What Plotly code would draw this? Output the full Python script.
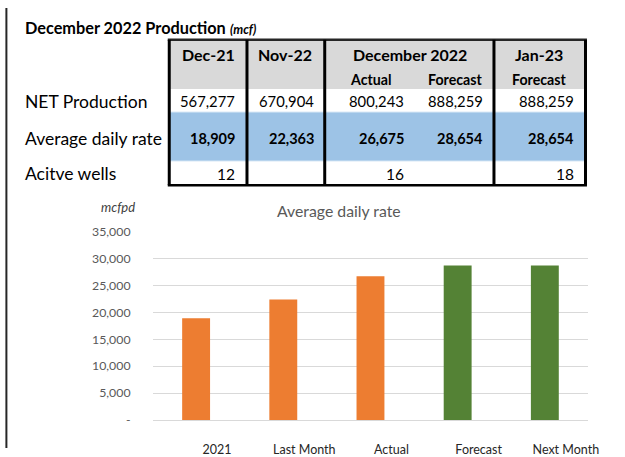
import plotly.graph_objects as go

W, H = 625, 457

# ---- data ----
title_main = "December 2022 Production"
title_unit = "(mcf)"
header_top = ["Dec-21", "Nov-22", "December 2022", "Jan-23"]
header_sub = ["", "", "Actual", "Forecast", "Forecast"]
row_labels = ["NET Production", "Average daily rate", "Acitve wells"]
net_production = [567277, 670904, 800243, 888259, 888259]
avg_daily_rate = [18909, 22363, 26675, 28654, 28654]
active_wells = [12, None, 16, None, 18]

chart_title = "Average daily rate"
y_unit = "mcfpd"
categories = ["2021", "Last Month", "Actual", "Forecast", "Next Month"]
bar_values = avg_daily_rate
bar_colors = ["#ED7D31", "#ED7D31", "#ED7D31", "#548235", "#548235"]
y_tickvals = [0, 5000, 10000, 15000, 20000, 25000, 30000, 35000]
y_ticktext = ["-", "5,000", "10,000", "15,000", "20,000", "25,000", "30,000", "35,000"]

FONT = "Lato"

def px(x):
    return x / W

def py(y):
    return 1 - y / H

fig = go.Figure()
fig.add_trace(go.Bar(
    x=categories, y=bar_values, marker=dict(color=bar_colors, line=dict(width=0)),
    width=0.32, hoverinfo="x+y", showlegend=False))

shapes = []
annotations = []

# page left border
shapes.append(dict(type="line", xref="paper", yref="paper", x0=px(6.5), x1=px(6.5),
                   y0=0, y1=1, line=dict(color="#262626", width=2)))

# table geometry
col_edges = [172, 251, 330, 502, 595]
top, hdr_bot, r1_bot, r2_bot, bot = 33, 84, 108, 159, 184
sub_right = [241, 321, 413, 493, 585]
sub_center = [None, None, 377, 462, 548]
top_center = [212, 290, 417, 548]

def rect(x0, y0, x1, y1, color):
    shapes.append(dict(type="rect", xref="paper", yref="paper", x0=px(x0), x1=px(x1),
                       y0=py(y1), y1=py(y0), fillcolor=color, line=dict(width=0), layer="below"))

rect(col_edges[0], top, col_edges[-1], hdr_bot, "#D9D9D9")
rect(col_edges[0], r1_bot, col_edges[-1], r2_bot, "#9DC3E6")
for yy in [r1_bot, r2_bot]:
    shapes.append(dict(type="line", xref="paper", yref="paper", x0=px(col_edges[0]), x1=px(col_edges[-1]),
                       y0=py(yy), y1=py(yy), line=dict(color="#DDEBF7", width=1)))

# borders
shapes.append(dict(type="line", xref="paper", yref="paper", x0=px(col_edges[0] - 1.5), x1=px(col_edges[-1] + 1.5),
                   y0=py(top), y1=py(top), line=dict(color="#262626", width=2.5)))
shapes.append(dict(type="line", xref="paper", yref="paper", x0=px(col_edges[0] - 1.5), x1=px(col_edges[-1] + 1.5),
                   y0=py(bot), y1=py(bot), line=dict(color="#000000", width=2.5)))
for xe in col_edges:
    shapes.append(dict(type="line", xref="paper", yref="paper", x0=px(xe), x1=px(xe),
                       y0=py(bot), y1=py(top), line=dict(color="#000000", width=3)))

def text(x, y, s, size=15, color="#000000", anchor="center", bold=False, italic=False):
    if bold:
        s = "<b>" + s + "</b>"
    if italic:
        s = "<i>" + s + "</i>"
    annotations.append(dict(xref="paper", yref="paper", x=px(x), y=py(y), text=s, showarrow=False,
                            xanchor=anchor, yanchor="middle",
                            font=dict(family=FONT, size=size, color=color)))

# title
annotations.append(dict(xref="paper", yref="paper", x=px(23), y=py(20), showarrow=False,
                        xanchor="left", yanchor="middle",
                        text="<b>" + title_main + "</b> <b><i><span style='font-size:12.5px'>" + title_unit + "</span></i></b>",
                        font=dict(family=FONT, size=16.3, color="#000000")))

# headers
for s, cx in zip(header_top, top_center):
    text(cx, 48, s, size=16, bold=True)
for s, cx in zip(header_sub, sub_center):
    if s:
        text(cx, 74, s, size=14.2, bold=True)

# row labels
row_y = [97, 136, 172]
for s, yy in zip(row_labels, row_y):
    text(23, yy, s, size=17.5, anchor="left")

def fmt(v):
    return "" if v is None else f"{v:,}"

for v, xr in zip(net_production, sub_right):
    text(xr, row_y[0], fmt(v), size=14.8, anchor="right")
for v, xr in zip(avg_daily_rate, sub_right):
    text(xr, row_y[1], fmt(v), size=14.5, anchor="right", bold=True)
for v, xr in zip(active_wells, sub_right):
    if v is not None:
        text(xr, row_y[2], fmt(v), size=15.5, anchor="right")

# chart texts
text(120, 207, y_unit, size=13, color="#404040", italic=True)
text(345, 210, chart_title, size=15.8, color="#595959")

fig.update_layout(
    width=W, height=H, margin=dict(l=0, r=0, t=0, b=0),
    paper_bgcolor="white", plot_bgcolor="white",
    shapes=shapes, annotations=annotations,
    xaxis=dict(domain=[px(155), px(598)], range=[-0.5, 4.5], type="category",
               showgrid=False, showline=False, zeroline=False, ticks="",
               ticklabelshift=21, ticklabelstandoff=20,
               tickfont=dict(family=FONT, size=12.5, color="#262626")),
    yaxis=dict(domain=[(H - 428) / H, (H - 232) / H], range=[0, 35000],
               tickvals=y_tickvals, ticktext=y_ticktext,
               showgrid=True, gridcolor="#D9D9D9", gridwidth=1,
               zeroline=True, zerolinecolor="#D9D9D9", zerolinewidth=1,
               showline=False, ticks="", ticklabelstandoff=21,
               tickfont=dict(family=FONT, size=12.3, color="#595959")),
)

fig.write_html("out.html", post_script="document.body.style.margin='0';",
               config={"displayModeBar": False})
